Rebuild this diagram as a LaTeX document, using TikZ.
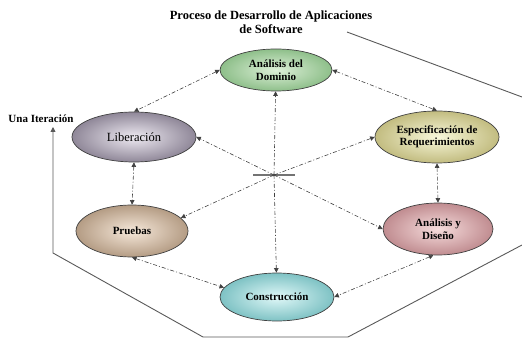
\documentclass[tikz,border=0pt]{standalone}
\usepackage{fontspec}
\setmainfont{Liberation Serif}
\usetikzlibrary{arrows.meta, positioning, shapes.geometric}

\definecolor{domIn}{HTML}{DDF0D8}\definecolor{domOut}{HTML}{8EBF8A}
\definecolor{libIn}{HTML}{EEEAF2}\definecolor{libOut}{HTML}{8F8798}
\definecolor{espIn}{HTML}{F8F8DA}\definecolor{espOut}{HTML}{C2BC80}
\definecolor{pruIn}{HTML}{F6E8DA}\definecolor{pruOut}{HTML}{B49C84}
\definecolor{disIn}{HTML}{F6DCDC}\definecolor{disOut}{HTML}{C08C90}
\definecolor{conIn}{HTML}{E0F8F8}\definecolor{conOut}{HTML}{7EC2C4}

\begin{document}
\begin{tikzpicture}[
  x=1pt, y=-1pt,
  fase/.style={ellipse, draw=black!75, line width=0.7pt, inner sep=1pt, align=center,
    font=\bfseries\fontsize{11}{12.5}\selectfont, shading=radial},
  flujo/.style={draw=black!75, line width=0.6pt,
    dash pattern=on 4pt off 2pt on 1pt off 2pt,
    -{Triangle[length=4.5pt,width=4.5pt]}},
  ida/.style={flujo, {Triangle[length=4.5pt,width=4.5pt]}-{Triangle[length=4.5pt,width=4.5pt]}},
  ciclo/.style={draw=black!65, line width=0.9pt},
  rotulo/.style={font=\bfseries\fontsize{11}{13}\selectfont}
]
\useasboundingbox (0,0) rectangle (522,339);

% titulo
\node[font=\bfseries\fontsize{12.5}{14}\selectfont, align=center] (titulo) at (271,22)
  {Proceso de Desarrollo de Aplicaciones\\de Software};

% fases
\node[fase, inner color=domIn, outer color=domOut, minimum width=112, minimum height=42] (dom) at (276,70) {Análisis del\\Dominio};
\node[fase, inner color=libIn, outer color=libOut, minimum width=124, minimum height=50,
  font=\fontsize{12.5}{14}\selectfont] (lib) at (134,137) {Liberación};
\node[fase, inner color=espIn, outer color=espOut, minimum width=124, minimum height=52] (esp) at (437,137) {Especificación de\\Requerimientos};
\node[fase, inner color=pruIn, outer color=pruOut, minimum width=112, minimum height=52] (pru) at (132,231) {Pruebas};
\node[fase, inner color=disIn, outer color=disOut, minimum width=110, minimum height=52] (dis) at (438,229) {Análisis y\\Diseño};
\node[fase, inner color=conIn, outer color=conOut, minimum width=114, minimum height=48] (con) at (277,297) {Construcción};

% centro
\coordinate (mid) at (274,175);
\coordinate (midL) at (253,175);
\coordinate (midR) at (295,175);
\draw[draw=black!55, line width=1.3pt] (midL) -- (midR);

\draw[flujo] (mid) -- (dom);
\draw[flujo] (mid) -- (con);
\draw[flujo] (mid) -- (lib.east);
\draw[flujo] (mid) -- (esp.west);
\draw[flujo] (mid) -- (pru.15);
\draw[flujo] (mid) -- (dis.west);

% anillo
\draw[ida] (dom.west) -- (lib.north);
\draw[ida] (dom.east) -- (esp.north);
\draw[ida] (lib.south) -- (pru.north);
\draw[ida] (esp.south) -- (dis.north);
\draw[ida] (pru.south) -- (con.170);
\draw[ida] (dis.-100) -- (con.east);

% iteracion
\node[rotulo] (iter) at (41,119) {Una Iteración};
\coordinate (r1) at (522,245);
\coordinate (r2) at (348,337);
\coordinate (r3) at (203,337);
\coordinate (r4) at (53,253);
\coordinate (r5) at (53,127);
\coordinate (t1) at (347,32);
\coordinate (t2) at (522,97);
\draw[ciclo, -{Triangle[length=5pt,width=5pt]}] (r1) -- (r2) -- (r3) -- (r4) -- (r5);
\draw[ciclo] (t1) -- (t2);
\end{tikzpicture}
\end{document}
